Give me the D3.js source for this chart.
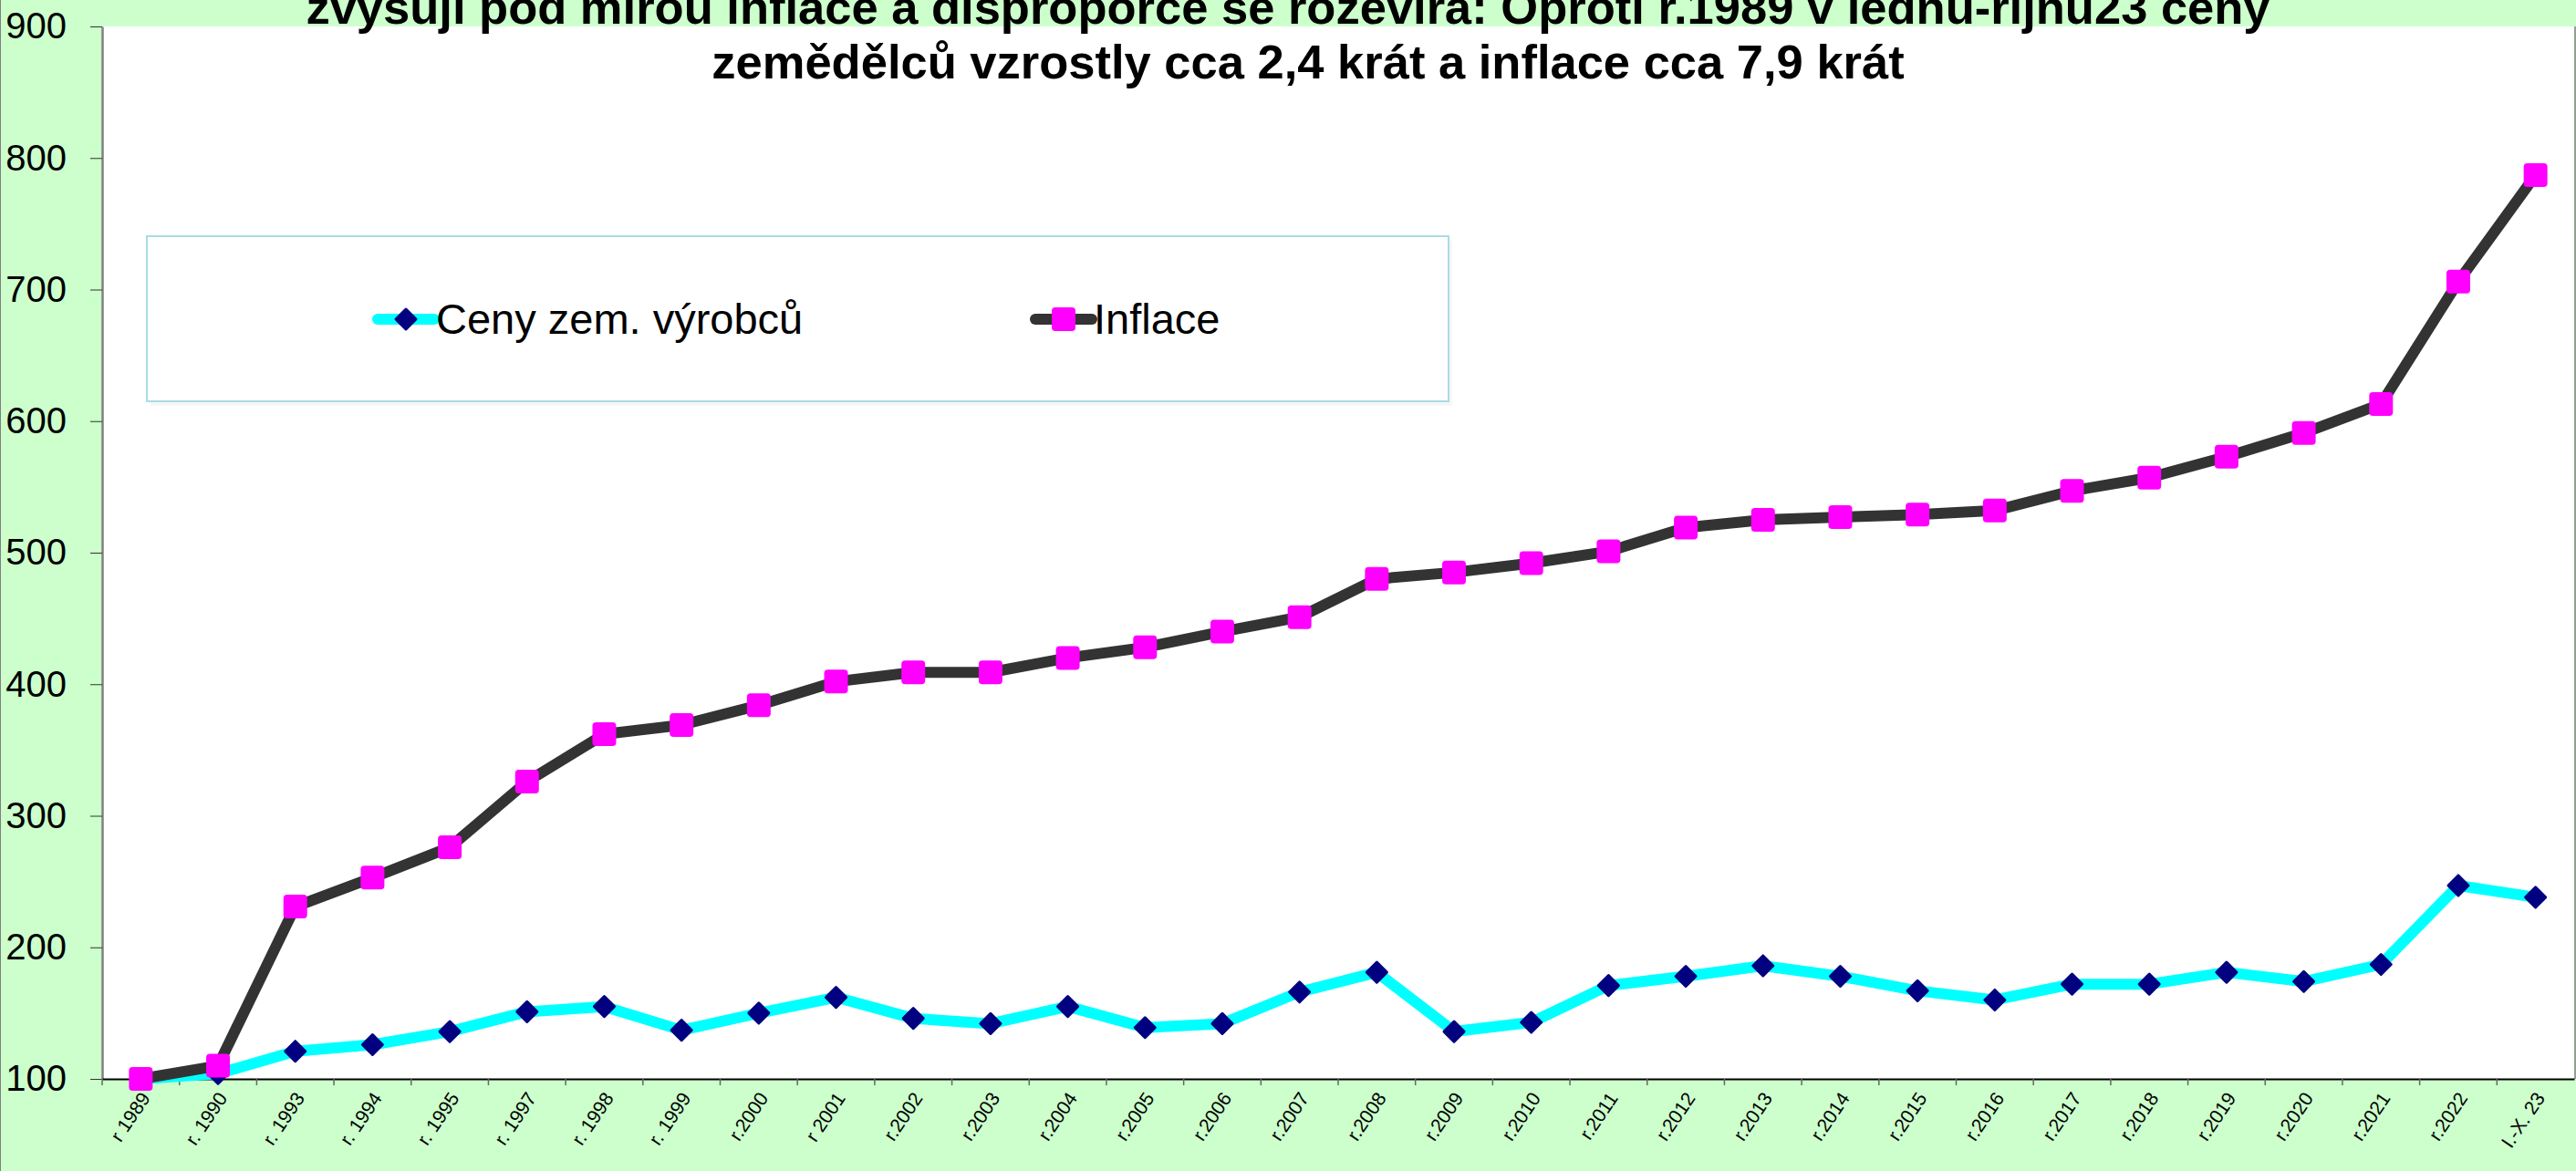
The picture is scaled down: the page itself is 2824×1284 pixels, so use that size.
<!DOCTYPE html>
<html>
<head>
<meta charset="utf-8">
<script src="https://cdn.jsdelivr.net/npm/d3@7"></script>
<style>
body { margin: 0; background: #ccffcc; overflow: hidden; }
svg { display: block; font-family: "Liberation Sans", Arial, sans-serif; }
</style>
</head>
<body>
<svg width="2824" height="1284"></svg>
<script>
var categories = ["r 1989", "r. 1990", "r. 1993", "r. 1994", "r. 1995", "r. 1997", "r. 1998", "r. 1999",
	"r.2000", "r 2001", "r.2002", "r.2003", "r.2004", "r.2005", "r.2006", "r.2007", "r.2008", "r.2009",
	"r.2010", "r.2011", "r.2012", "r.2013", "r.2014", "r.2015", "r.2016", "r.2017", "r.2018", "r.2019",
	"r.2020", "r.2021", "r.2022", "I.-X. 23"];

// ceny zemedelskych vyrobcu, r.1989 = 100
var cenyValues = [100, 104, 121, 126, 136, 151, 155, 137, 150, 162, 146, 142, 155, 139, 142, 166,
	181, 136, 143, 171, 178, 186, 178, 167, 160, 172, 172, 181, 174, 187, 247, 238];

// inflace, r.1989 = 100
var inflaceValues = [100, 110, 231, 253, 276, 326, 362, 369, 384, 402, 409, 409, 420, 428, 440, 451,
	480, 485, 492, 501, 519, 525, 527, 529, 532, 547, 557, 573, 591, 613, 706, 787];

var yTicks = [100, 200, 300, 400, 500, 600, 700, 800, 900];
var seriesNames = ["Ceny zem. výrobců", "Inflace"];
var titleLines = ["zvyšují pod mírou inflace a disproporce se rozevírá:  Oproti r.1989 v lednu-říjnu23 ceny",
	"zemědělců vzrostly cca 2,4 krát a inflace cca 7,9 krát"];

var svg = d3.select("svg");
//note: "top" is taken by window.top, so plot edges get own names
var plotLeft = 112, plotRight = 2822, plotTop = 29, plotBottom = 1183;

var x = d3.scaleBand().domain(categories).range([plotLeft, plotRight]);
var y = d3.scaleLinear().domain([100, 900]).range([plotBottom, plotTop]);

function cx(d, i)
{
	return x(categories[i]) + x.bandwidth() / 2;
}

//white plot area
svg.append("rect")
	.attr("x", plotLeft)
	.attr("y", plotTop)
	.attr("width", plotRight - plotLeft)
	.attr("height", plotBottom - plotTop)
	.attr("fill", "#ffffff");

//outer borders
svg.append("line").attr("x1", 0.5).attr("x2", 0.5).attr("y1", 0).attr("y2", 1284)
	.attr("stroke", "#808080").attr("stroke-width", 1);
svg.append("line").attr("x1", 2823).attr("x2", 2823).attr("y1", plotTop).attr("y2", plotBottom)
	.attr("stroke", "#808080").attr("stroke-width", 1.5);

//y axis
var yAxis = svg.append("g")
	.attr("transform", "translate(" + plotLeft + ",0)")
	.call(d3.axisLeft(y).tickValues(yTicks).tickSize(13).tickSizeOuter(0).tickPadding(26));
yAxis.select(".domain").attr("stroke", "#808080").attr("stroke-width", 2.5);
yAxis.selectAll(".tick line").attr("stroke", "#333333");
yAxis.selectAll("text")
	.attr("font-size", 40)
	.attr("fill", "#000");

//x axis
var xAxis = svg.append("g")
	.attr("transform", "translate(0," + plotBottom + ")")
	.call(d3.axisBottom(x).tickSize(0).tickSizeOuter(0));
xAxis.select(".domain").attr("stroke", "#000").attr("stroke-width", 2);
xAxis.selectAll("text")
	.attr("x", 0)
	.attr("y", 0)
	.attr("dy", "0.35em")
	.attr("transform", "translate(5,17) rotate(-56)")
	.attr("text-anchor", "end")
	.attr("font-size", 21)
	.attr("fill", "#000");

//tick marks between categories
svg.append("g").selectAll("line")
	.data(categories)
	.enter().append("line")
	.attr("x1", function(d) { return x(d); })
	.attr("x2", function(d) { return x(d); })
	.attr("y1", plotBottom)
	.attr("y2", plotBottom + 7)
	.attr("stroke", "#666666")
	.attr("stroke-width", 1.5);

var line = d3.line()
	.x(function(d, i) { return cx(d, i); })
	.y(function(d) { return y(d); });

var diamond = "M0,-11 L11,0 L0,11 L-11,0 Z";

//ceny series
svg.append("path")
	.attr("d", line(cenyValues))
	.attr("fill", "none")
	.attr("stroke", "#00ffff")
	.attr("stroke-width", 12)
	.attr("stroke-linejoin", "round");

svg.append("g").selectAll("path")
	.data(cenyValues)
	.enter().append("path")
	.attr("d", diamond)
	.attr("transform", function(d, i) { return "translate(" + cx(d, i) + "," + y(d) + ")"; })
	.attr("fill", "#000080")
	.attr("stroke", "#000080")
	.attr("stroke-width", 3)
	.attr("stroke-linejoin", "round");

//inflace series
svg.append("path")
	.attr("d", line(inflaceValues))
	.attr("fill", "none")
	.attr("stroke", "#333333")
	.attr("stroke-width", 12)
	.attr("stroke-linejoin", "round");

svg.append("g").selectAll("rect")
	.data(inflaceValues)
	.enter().append("rect")
	.attr("x", function(d, i) { return cx(d, i) - 13; })
	.attr("y", function(d) { return y(d) - 13; })
	.attr("width", 26)
	.attr("height", 26)
	.attr("rx", 4)
	.attr("fill", "#ff00ff");

//legend box
svg.append("rect")
	.attr("x", 165).attr("y", 264)
	.attr("width", 1427).attr("height", 181)
	.attr("fill", "#f6f6f6");
svg.append("rect")
	.attr("x", 161).attr("y", 259)
	.attr("width", 1427).attr("height", 181)
	.attr("fill", "#ffffff")
	.attr("stroke", "#a8dce4")
	.attr("stroke-width", 2);

var legendY = 350;
var legendX = [414, 1135];
var legendColors = [["#00ffff", "#000080"], ["#333333", "#ff00ff"]];

var legend = svg.append("g").selectAll("g")
	.data(seriesNames)
	.enter().append("g")
	.attr("transform", function(d, i) { return "translate(" + legendX[i] + "," + legendY + ")"; });

legend.append("line")
	.attr("x1", 0).attr("x2", 62)
	.attr("y1", 0).attr("y2", 0)
	.attr("stroke", function(d, i) { return legendColors[i][0]; })
	.attr("stroke-width", 12)
	.attr("stroke-linecap", "round");

legend.each(function(d, i)
{
	var g = d3.select(this);
	if (i == 0)
		g.append("path")
			.attr("d", diamond)
			.attr("transform", "translate(31,0)")
			.attr("fill", legendColors[i][1])
			.attr("stroke", legendColors[i][1])
			.attr("stroke-width", 3)
			.attr("stroke-linejoin", "round");
	else
		g.append("rect")
			.attr("x", 31 - 13).attr("y", -13)
			.attr("width", 26).attr("height", 26)
			.attr("rx", 4)
			.attr("fill", legendColors[i][1]);
});

legend.append("text")
	.attr("x", 64)
	.attr("y", 0)
	.attr("dy", "0.35em")
	.attr("font-size", 47)
	.attr("fill", "#000")
	.text(function(d) { return d; });

//title, first line is cut off by the top edge
var titleX = [1412, 1434];
svg.append("g").selectAll("text")
	.data(titleLines)
	.enter().append("text")
	.attr("x", function(d, i) { return titleX[i]; })
	.attr("y", function(d, i) { return 26 + i * 60; })
	.attr("text-anchor", "middle")
	.attr("font-size", 52.5)
	.attr("font-weight", "bold")
	.attr("fill", "#000")
	.text(function(d) { return d; });
</script>
</body>
</html>
